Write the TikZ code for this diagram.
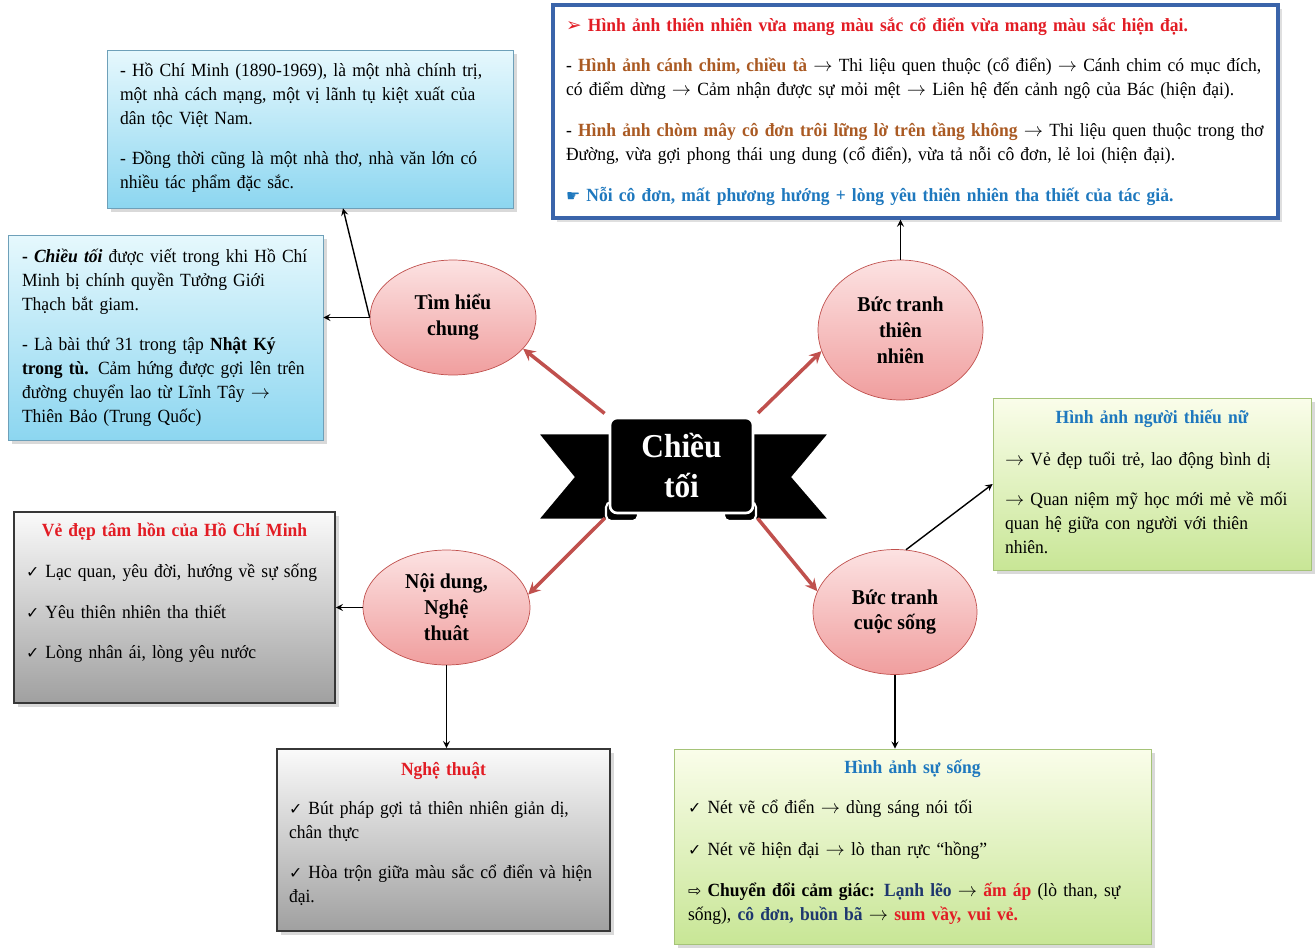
\documentclass[tikz,border=0pt]{standalone}
\usepackage{fontspec}
\setmainfont{Liberation Serif}[FakeStretch=0.94]
\newfontfamily\symfont{DejaVu Sans}
\usetikzlibrary{shapes.geometric, arrows}
\usetikzlibrary{shadows}

\definecolor{ribred}{RGB}{192,80,77}
\definecolor{pinktop}{RGB}{252,226,226}
\definecolor{pinkbot}{RGB}{240,158,158}
\definecolor{frameblue}{RGB}{58,100,170}
\definecolor{titlered}{RGB}{226,28,36}
\definecolor{brownish}{RGB}{170,90,35}
\definecolor{textblue}{RGB}{30,120,190}
\definecolor{navy}{RGB}{30,55,110}
\definecolor{skytop}{RGB}{230,248,253}
\definecolor{skybot}{RGB}{140,214,240}
\definecolor{skyline}{RGB}{110,160,185}
\definecolor{limetop}{RGB}{250,253,234}
\definecolor{limebot}{RGB}{200,230,150}
\definecolor{limeline}{RGB}{165,195,120}
\definecolor{graytop}{RGB}{250,250,250}
\definecolor{graybot}{RGB}{160,160,160}
\definecolor{grayline}{RGB}{55,55,55}

\tikzstyle{topic} = [ellipse, draw=ribred, top color=pinktop, bottom color=pinkbot, align=center, inner sep=0pt, font=\bfseries\fontsize{12}{14.7}\selectfont]
\tikzstyle{banner} = [rectangle, rounded corners=4pt, fill=black, draw=white, line width=1.5pt, text=white, align=center, font=\bfseries\fontsize{19}{23}\selectfont, minimum width=2.86cm, minimum height=1.9cm]
\tikzstyle{frame} = [rectangle, draw=frameblue, line width=1.8pt, fill=white, align=left, drop shadow={opacity=0.25}]
\tikzstyle{skybox} = [rectangle, draw=skyline, top color=skytop, bottom color=skybot, align=left, drop shadow={opacity=0.3}]
\tikzstyle{limebox} = [rectangle, draw=limeline, top color=limetop, bottom color=limebot, align=left, drop shadow={opacity=0.3}]
\tikzstyle{graybox} = [rectangle, draw=grayline, line width=1pt, top color=graytop, bottom color=graybot, align=left, drop shadow={opacity=0.3}]
\tikzstyle{arrow} = [line width=0.8pt,->,>=stealth]
\tikzstyle{redarrow} = [ribred, line width=2pt,->,>=stealth]

\newcommand{\tick}{{\symfont\small ✓}}
\newcommand{\toarrow}{$\rightarrow$}

\begin{document}
\begin{tikzpicture}[x=0.02cm, y=-0.02cm, font=\fontsize{10.6}{13.66}\selectfont]
\useasboundingbox (0,0) rectangle (1315,951);

% ribbon in the middle
\filldraw [fill=black, draw=white, line width=1.5pt] (625,433) -- (537,433) -- (573,477) -- (537,520) -- (625,520) -- cycle;
\filldraw [fill=black, draw=white, line width=1.5pt] (738,433) -- (830,433) -- (793,477) -- (830,520) -- (738,520) -- cycle;
\filldraw [fill=black, draw=white, line width=1.2pt, rounded corners=3pt] (606,502) rectangle (638,521);
\filldraw [fill=black, draw=white, line width=1.2pt, rounded corners=3pt] (724,502) rectangle (756,521);
\node (title) [banner] at (681.5,465.5) {Chiều\\tối};

% topics
\node (tim) [topic, minimum width=3.32cm, minimum height=2.3cm] at (453,317.5) {Tìm hiểu\\chung};
\node (thien) [topic, minimum width=3.3cm, minimum height=2.8cm] at (900.5,330) {Bức tranh\\thiên\\nhiên};
\node (noidung) [topic, minimum width=3.34cm, minimum height=2.3cm] at (446.5,607.5) {Nội dung,\\Nghệ\\thuât};
\node (cuocsong) [topic, minimum width=3.28cm, minimum height=2.5cm] at (895,612) {Bức tranh\\cuộc sống};

% boxes
\node (tieusu) [skybox, text width=7.6cm, inner xsep=0.26cm, minimum height=3.16cm] at (310,129) {- Hồ Chí Minh (1890-1969), là một nhà chính trị,\\
một nhà cách mạng, một vị lãnh tụ kiệt xuất của\\
dân tộc Việt Nam.\\[9pt]
- Đồng thời cũng là một nhà thơ, nhà văn lớn có\\
nhiều tác phẩm đặc sắc.\\[-10pt]\mbox{}};

\node (hoancanh) [skybox, text width=5.74cm, inner xsep=0.28cm, minimum height=4.1cm] at (165.5,337.5) {\textbf{- \textit{Chiều tối}} được viết trong khi Hồ Chí\\
Minh bị chính quyền Tưởng Giới\\
Thạch bắt giam.\\[9pt]
- Là bài thứ 31 trong tập \textbf{Nhật Ký}\\
\textbf{trong tù.} Cảm hứng được gợi lên trên\\
đường chuyển lao từ Lĩnh Tây \toarrow\\
Thiên Bảo (Trung Quốc)};

\node (tranhtn) [frame, text width=13.98cm, inner xsep=0.26cm, minimum height=4.26cm] at (915.5,111.5) {{\color{titlered}\bfseries{\symfont ➢} Hình ảnh thiên nhiên vừa mang màu sắc cổ điển vừa mang màu sắc hiện đại.}\\[9.5pt]
- {\bfseries\color{brownish}Hình ảnh cánh chim, chiều tà} \toarrow{} Thi liệu quen thuộc (cổ điển) \toarrow{} Cánh chim có mục đích,\\
có điểm dừng \toarrow{} Cảm nhận được sự mỏi mệt \toarrow{} Liên hệ đến cảnh ngộ của Bác (hiện đại).\\[9.5pt]
- {\bfseries\color{brownish}Hình ảnh chòm mây cô đơn trôi lững lờ trên tầng không} \toarrow{} Thi liệu quen thuộc trong thơ\\
Đường, vừa gợi phong thái ung dung (cổ điển), vừa tả nỗi cô đơn, lẻ loi (hiện đại).\\[9.5pt]
{\color{textblue}\bfseries{\symfont\small ☛} Nỗi cô đơn, mất phương hướng + lòng yêu thiên nhiên tha thiết của tác giả.}};

\node (thieunu) [limebox, text width=5.88cm, inner xsep=0.24cm, minimum height=3.44cm] at (1152,484) {\centerline{\bfseries\color{textblue}Hình ảnh người thiếu nữ}\vspace{10pt}
\ \toarrow{} Vẻ đẹp tuổi trẻ, lao động bình dị\\[9pt]
\toarrow{} Quan niệm mỹ học mới mẻ về mối\\
quan hệ giữa con người với thiên\\
nhiên.\\[-11pt]\mbox{}};

\node (tamhon) [graybox, text width=5.94cm, inner xsep=0.24cm, minimum height=3.82cm] at (174.5,607.5) {\centerline{\bfseries\color{titlered}Vẻ đẹp tâm hồn của Hồ Chí Minh}\vspace{9.5pt}
\tick{} Lạc quan, yêu đời, hướng về sự sống\\[9.5pt]
\tick{} Yêu thiên nhiên tha thiết\\[9.5pt]
\tick{} Lòng nhân ái, lòng yêu nước\\[5pt]
\mbox{}};

\node (nghethuat) [graybox, text width=6.18cm, inner xsep=0.24cm, minimum height=3.64cm] at (443.5,840) {\centerline{\bfseries\color{titlered}Nghệ thuật}\vspace{8.7pt}
\tick{} Bút pháp gợi tả thiên nhiên giản dị,\\
chân thực\\[9pt]
\tick{} Hòa trộn giữa màu sắc cổ điển và hiện\\
đại.\\[-5pt]
\mbox{}};

\node (susong) [limebox, text width=8.98cm, inner xsep=0.28cm, minimum height=3.9cm] at (912.5,846.5) {\centerline{\bfseries\color{textblue}Hình ảnh sự sống}\vspace{9pt}
\tick{} Nét vẽ cổ điển \toarrow{} dùng sáng nói tối\\[10pt]
\tick{} Nét vẽ hiện đại \toarrow{} lò than rực “hồng”\\[10pt]
{\symfont\small ⇨} \textbf{Chuyển đổi cảm giác: {\color{navy}Lạnh lẽo} \toarrow{} {\color{titlered}ấm áp}} (lò than, sự\\
sống), \textbf{\color{navy}cô đơn, buồn bã} \toarrow{} \textbf{\color{titlered}sum vầy, vui vẻ.}\\[-7pt]
\mbox{}};

% connectors
\draw [redarrow, shorten <=3pt] (title.north west) -- (tim.-24);
\draw [redarrow, shorten <=3pt] (title.north east) -- (thien.195);
\draw [redarrow, shorten <=3pt] (title.south west) -- (noidung.9);
\draw [redarrow, shorten <=3pt] (title.south east) -- (cuocsong.165);

\draw [arrow] (tim.west) -- ([xshift=0.66cm]tieusu.south);
\draw [arrow] (tim.west) -- (tim.west -| hoancanh.east);
\draw [arrow] (thien.north) -- (thien.north |- tranhtn.south);
\draw [arrow] (noidung.west) -- (noidung.west -| tamhon.east);
\draw [arrow] (noidung.south) -- (noidung.south |- nghethuat.north);
\draw [arrow] (cuocsong.80) -- (thieunu.west);
\draw [arrow] (cuocsong.south) -- (cuocsong.south |- susong.north);

\end{tikzpicture}
\end{document}
